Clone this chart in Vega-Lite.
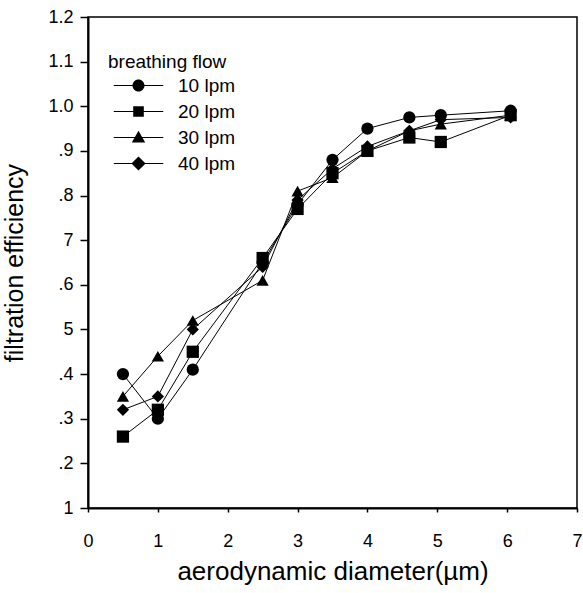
{
  "$schema": "https://vega.github.io/schema/vega-lite/v6.json",
  "width": 489,
  "height": 491,
  "autosize": "none",
  "padding": {"left": 88, "top": 17, "right": 6, "bottom": 85},
  "background": "white",
  "config": {
    "font": "Liberation Sans",
    "view": {"stroke": "black", "strokeWidth": 1.5},
    "axis": {"grid": false, "domainColor": "black", "domainWidth": 2, "tickColor": "black", "tickWidth": 1.5, "labelColor": "black", "titleColor": "black", "labelFont": "Liberation Sans", "titleFont": "Liberation Sans", "titleFontWeight": "normal"}
  },
  "data": {
    "values": [
      {"d": 0.5, "eff": 0.40, "flow": "10 lpm"},
      {"d": 1.0, "eff": 0.30, "flow": "10 lpm"},
      {"d": 1.5, "eff": 0.41, "flow": "10 lpm"},
      {"d": 2.5, "eff": 0.65, "flow": "10 lpm"},
      {"d": 3.0, "eff": 0.78, "flow": "10 lpm"},
      {"d": 3.5, "eff": 0.88, "flow": "10 lpm"},
      {"d": 4.0, "eff": 0.95, "flow": "10 lpm"},
      {"d": 4.6, "eff": 0.975, "flow": "10 lpm"},
      {"d": 5.05, "eff": 0.98, "flow": "10 lpm"},
      {"d": 6.05, "eff": 0.99, "flow": "10 lpm"},
      {"d": 0.5, "eff": 0.26, "flow": "20 lpm"},
      {"d": 1.0, "eff": 0.32, "flow": "20 lpm"},
      {"d": 1.5, "eff": 0.45, "flow": "20 lpm"},
      {"d": 2.5, "eff": 0.66, "flow": "20 lpm"},
      {"d": 3.0, "eff": 0.77, "flow": "20 lpm"},
      {"d": 3.5, "eff": 0.85, "flow": "20 lpm"},
      {"d": 4.0, "eff": 0.90, "flow": "20 lpm"},
      {"d": 4.6, "eff": 0.93, "flow": "20 lpm"},
      {"d": 5.05, "eff": 0.92, "flow": "20 lpm"},
      {"d": 6.05, "eff": 0.98, "flow": "20 lpm"},
      {"d": 0.5, "eff": 0.35, "flow": "30 lpm"},
      {"d": 1.0, "eff": 0.44, "flow": "30 lpm"},
      {"d": 1.5, "eff": 0.52, "flow": "30 lpm"},
      {"d": 2.5, "eff": 0.61, "flow": "30 lpm"},
      {"d": 3.0, "eff": 0.81, "flow": "30 lpm"},
      {"d": 3.5, "eff": 0.84, "flow": "30 lpm"},
      {"d": 4.0, "eff": 0.90, "flow": "30 lpm"},
      {"d": 4.6, "eff": 0.945, "flow": "30 lpm"},
      {"d": 5.05, "eff": 0.96, "flow": "30 lpm"},
      {"d": 6.05, "eff": 0.98, "flow": "30 lpm"},
      {"d": 0.5, "eff": 0.32, "flow": "40 lpm"},
      {"d": 1.0, "eff": 0.35, "flow": "40 lpm"},
      {"d": 1.5, "eff": 0.50, "flow": "40 lpm"},
      {"d": 2.5, "eff": 0.64, "flow": "40 lpm"},
      {"d": 3.0, "eff": 0.79, "flow": "40 lpm"},
      {"d": 3.5, "eff": 0.86, "flow": "40 lpm"},
      {"d": 4.0, "eff": 0.91, "flow": "40 lpm"},
      {"d": 4.6, "eff": 0.945, "flow": "40 lpm"},
      {"d": 5.05, "eff": 0.97, "flow": "40 lpm"},
      {"d": 6.05, "eff": 0.975, "flow": "40 lpm"}
    ]
  },
  "encoding": {
    "x": {
      "field": "d", "type": "quantitative",
      "scale": {"domain": [0, 7], "nice": false, "zero": false},
      "axis": {"values": [0, 1, 2, 3, 4, 5, 6, 7], "format": "d", "title": "aerodynamic diameter(\u00b5m)", "labelFontSize": 18, "titleFontSize": 26, "tickSize": 4, "labelPadding": 20, "titlePadding": 8, "labelFlush": false}
    },
    "y": {
      "field": "eff", "type": "quantitative",
      "scale": {"domain": [0.1, 1.2], "nice": false, "zero": false},
      "axis": {"values": [0.1, 0.2, 0.3, 0.4, 0.5, 0.6, 0.7, 0.8, 0.9, 1.0, 1.1, 1.2], "labelExpr": "round(datum.value*10)==1 ? '1' : round(datum.value*10)==5 ? '5' : round(datum.value*10)==7 ? '7' : datum.value < 0.95 ? replace(format(datum.value,'.1f'),'0.','.') : format(datum.value,'.1f')", "title": "filtration efficiency", "labelFontSize": 18, "titleFontSize": 25, "tickSize": 8, "labelPadding": 7, "titlePadding": 20, "labelFlush": false}
    }
  },
  "layer": [
    {
      "mark": {"type": "line", "color": "black", "strokeWidth": 1},
      "encoding": {"detail": {"field": "flow"}, "order": {"field": "d"}}
    },
    {
      "mark": {"type": "point", "filled": true, "color": "black", "size": 150, "opacity": 1},
      "encoding": {
        "shape": {"field": "flow", "type": "nominal", "scale": {"range": ["circle", "square", "triangle-up", "diamond"]}, "legend": null}
      }
    },
    {
      "mark": {"type": "point", "filled": true, "color": "black", "size": 200, "opacity": 0},
      "encoding": {
        "shape": {
          "field": "flow", "type": "nominal",
          "scale": {"range": [
            "M-3.5,-0.08H3.5V0.08H-3.5ZM-0.85,0A0.85,0.85,0,1,1,0.85,0A0.85,0.85,0,1,1,-0.85,0Z",
            "M-3.5,-0.08H3.5V0.08H-3.5ZM-0.75,-0.75H0.75V0.75H-0.75Z",
            "M-3.5,-0.08H3.5V0.08H-3.5ZM0,-0.95L0.95,0.7H-0.95Z",
            "M-3.5,-0.08H3.5V0.08H-3.5ZM0,-1L1,0L0,1L-1,0Z"
          ]},
          "legend": {
            "title": "breathing flow", "orient": "none", "legendX": 20, "legendY": 36,
            "titleFontSize": 19, "titleFontWeight": "normal", "titleColor": "black", "titlePadding": 4,
            "labelFontSize": 19, "labelColor": "black", "labelOffset": 30,
            "symbolSize": 200, "symbolOffset": 21, "symbolOpacity": 1,
            "symbolFillColor": "black", "symbolStrokeColor": "black", "symbolStrokeWidth": 0,
            "rowPadding": 6,
            "encode": {"symbols": {"update": {"fill": {"value": "black"}, "opacity": {"value": 1}, "fillOpacity": {"value": 1}}}}
          }
        }
      }
    }
  ],
  "resolve": {"scale": {"shape": "independent"}}
}
